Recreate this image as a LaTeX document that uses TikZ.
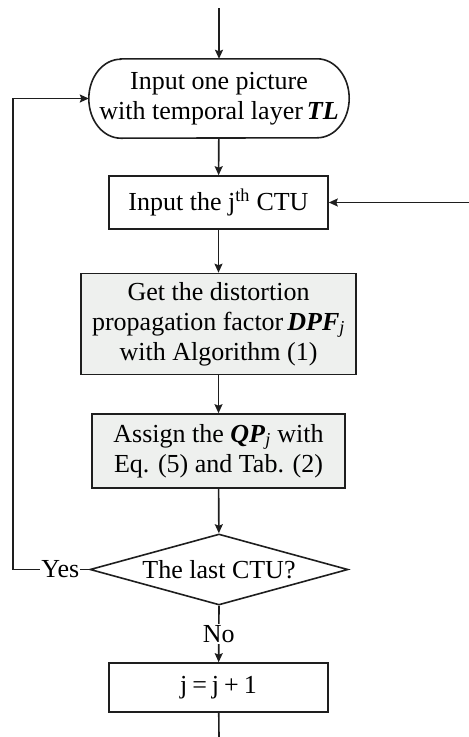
\documentclass[tikz,border=0pt]{standalone}
\usepackage{fontspec}
\setmainfont{Liberation Serif}
\usetikzlibrary{arrows.meta,shapes.geometric,calc}
\definecolor{boxfill}{HTML}{EEF0EE}
\definecolor{ink}{HTML}{1E1E1E}
\begin{document}
\begin{tikzpicture}[x=1pt,y=-1pt,
  every node/.style={font=\fontsize{26}{30}\selectfont, align=center, inner sep=0pt, text=black},
  shape box/.style={draw=ink, line width=1.6pt, rectangle},
  term/.style={rectangle, minimum width=260pt, minimum height=79pt},
  dec/.style={draw=ink, line width=1.6pt, diamond, aspect=3.6, minimum width=258pt, minimum height=71pt},
  arr/.style={draw=ink, line width=1.6pt, -{Stealth[length=9pt,width=8pt,inset=1.5pt]}},
  conn/.style={draw=ink, line width=1.6pt},
  lbl/.style={fill=white, inner sep=1pt}]
\useasboundingbox (0,0) rectangle (469,737);
\coordinate (top) at (219,8);
\coordinate (rin) at (469,202.5);
\coordinate (bot) at (219,737);
\coordinate (lx) at (13,0);
\node[term] (t) at (219,98.5) {Input one picture\\with temporal layer\kern4pt\textbf{\textit{TL}}};
\draw[conn] ($(t.north west)+(32,0)$) -- ($(t.north east)+(-32,0)$)
  arc[start angle=-90, end angle=90, x radius=32, y radius=39.5]
  -- ($(t.south west)+(32,0)$)
  arc[start angle=90, end angle=270, x radius=32, y radius=39.5] -- cycle;
\node[shape box, minimum width=219pt, minimum height=53pt] (b2) at (218.5,202.5) {Input the j\textsuperscript{th} CTU};
\node[shape box, fill=boxfill, minimum width=275pt, minimum height=101pt] (b3) at (218.5,324) {Get the distortion\\propagation factor\kern4pt\textbf{\textit{DPF}}\textsubscript{\itshape j}\\with Algorithm (1)};
\node[shape box, fill=boxfill, minimum width=253pt, minimum height=74pt] (b4) at (218.5,451) {Assign the \textbf{\textit{QP}}\textsubscript{\itshape j} with\\Eq. (5) and Tab. (2)};
\node[dec] (d) at (219,569.5) {The last CTU?};
\node[shape box, minimum width=219pt, minimum height=49pt] (b5) at (218.5,687.5) {j\kern5pt=\kern5pt j\kern5pt+\kern5pt1};
\draw[arr] (top) -- (t);
\draw[arr] (t) -- (b2);
\draw[arr] (rin) -- (b2);
\draw[arr] (b2) -- (b3);
\draw[arr] (b3) -- (b4);
\draw[arr] (b4) -- (d);
\draw[arr] (d.west) -- node[lbl, pos=0.38] {Yes} (d.west -| lx) |- (t.west);
\draw[arr] (d.south) -- node[lbl] {No} (b5);
\draw[conn] (b5) -- (bot);
\end{tikzpicture}
\end{document}
